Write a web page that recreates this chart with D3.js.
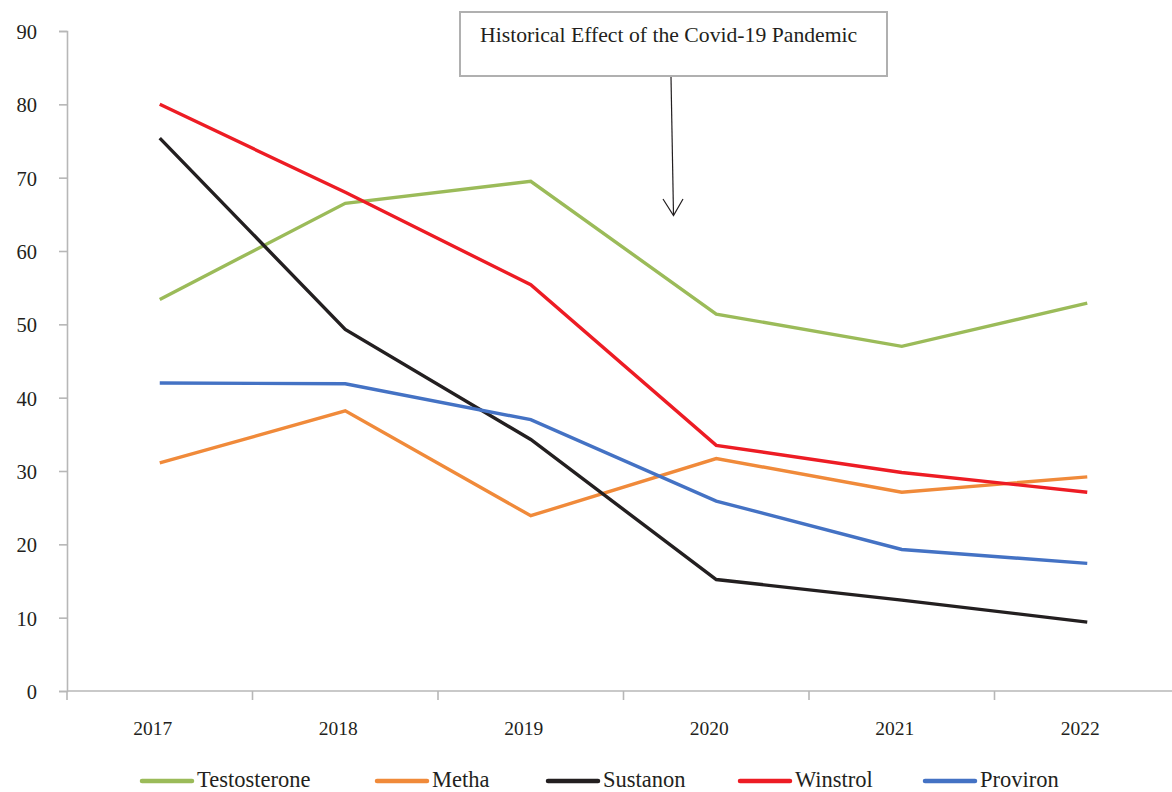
<!DOCTYPE html>
<html>
<head>
<meta charset="utf-8">
<script src="https://cdn.jsdelivr.net/npm/d3@7"></script>
<style>
  html, body { margin: 0; padding: 0; background: #fff; }
  svg { display: block; }
  text { font-family: "Liberation Serif", "Times New Roman", serif; fill: #231f20; }
</style>
</head>
<body>
<svg id="chart" width="1172" height="792"></svg>
<script>
const years = ["2017", "2018", "2019", "2020", "2021", "2022"];
const seriesNames = ["Testosterone", "Metha", "Sustanon", "Winstrol", "Proviron"];
const testosterone = [53.4, 66.5, 69.5, 51.4, 47.0, 52.9];
const metha = [31.1, 38.2, 23.9, 31.7, 27.1, 29.2];
const sustanon = [75.4, 49.3, 34.3, 15.2, 12.4, 9.4];
const winstrol = [80.0, 68.0, 55.4, 33.5, 29.8, 27.1];
const proviron = [42.0, 41.9, 37.0, 25.9, 19.3, 17.4];
const yTicks = [0, 10, 20, 30, 40, 50, 60, 70, 80, 90];
const annotationText = "Historical Effect of the Covid-19 Pandemic";

const seriesValues = [testosterone, metha, sustanon, winstrol, proviron];
const colors = ["#9bbb59", "#f08a3a", "#231f20", "#ed1c24", "#4472c4"];

const svg = d3.select("#chart");
const x0 = 67, bandW = 185.5;
const x = d3.scaleBand().domain(years).range([x0, x0 + bandW * years.length]).padding(0);
const y = d3.scaleLinear().domain([0, 90]).range([691, 31]);

// Y axis
const yAxis = svg.append("g").attr("transform", `translate(${x0},0)`)
  .call(d3.axisLeft(y).tickValues(yTicks).tickSize(8).tickPadding(22).tickFormat(d3.format("d")));
yAxis.select(".domain").attr("stroke", "#b7b7b7").attr("stroke-width", 1.6);
yAxis.selectAll(".tick line").attr("stroke", "#b7b7b7").attr("stroke-width", 1.6);
yAxis.selectAll(".tick text").attr("font-size", 20.5).attr("font-family", "Liberation Serif").attr("fill", "#231f20").attr("dy", "0.36em");

// X axis
const xAxisG = svg.append("g").attr("transform", `translate(0,${y(0)})`);
xAxisG.append("line").attr("x1", x0).attr("x2", 1172).attr("y1", 0).attr("y2", 0)
  .attr("stroke", "#b7b7b7").attr("stroke-width", 1.6);
xAxisG.selectAll("line.tk").data(years).enter().append("line").attr("class", "tk")
  .attr("x1", d => x(d)).attr("x2", d => x(d)).attr("y1", 0).attr("y2", 9)
  .attr("stroke", "#b7b7b7").attr("stroke-width", 1.6);
xAxisG.selectAll("text.lbl").data(years).enter().append("text").attr("class", "lbl")
  .attr("x", d => x(d) + x.bandwidth() / 2 - 7).attr("y", 44)
  .attr("text-anchor", "middle").attr("font-size", 19.5).text(d => d);

// Lines
const line = d3.line().x((d, i) => x(years[i]) + x.bandwidth() / 2).y(d => y(d));
svg.append("g").selectAll("path").data(seriesValues).enter().append("path")
  .attr("d", d => line(d)).attr("fill", "none")
  .attr("stroke", (d, i) => colors[i]).attr("stroke-width", 3.4)
  .attr("stroke-linejoin", "miter");

// Annotation
const ann = svg.append("g");
ann.append("rect").attr("x", 460).attr("y", 12).attr("width", 427).attr("height", 64)
  .attr("fill", "#fff").attr("stroke", "#b0b0b0").attr("stroke-width", 2);
ann.append("text").attr("x", 480).attr("y", 42).attr("font-size", 21.7).text(annotationText);
ann.append("line").attr("x1", 671).attr("y1", 77).attr("x2", 673.5).attr("y2", 215)
  .attr("stroke", "#231f20").attr("stroke-width", 1.2);
ann.append("path").attr("d", "M663,199 L673.5,215.5 L683,199").attr("fill", "none")
  .attr("stroke", "#231f20").attr("stroke-width", 1.2);

// Legend
const legendX = [140, 375, 546, 738, 923];
const lg = svg.append("g");
seriesNames.forEach((name, i) => {
  lg.append("line").attr("x1", legendX[i] + 2).attr("x2", legendX[i] + 52)
    .attr("y1", 781).attr("y2", 781).attr("stroke", colors[i])
    .attr("stroke-width", 4.5).attr("stroke-linecap", "round");
  lg.append("text").attr("x", legendX[i] + 57).attr("y", 787).attr("font-size", 22.5).text(name);
});
</script>
</body>
</html>
